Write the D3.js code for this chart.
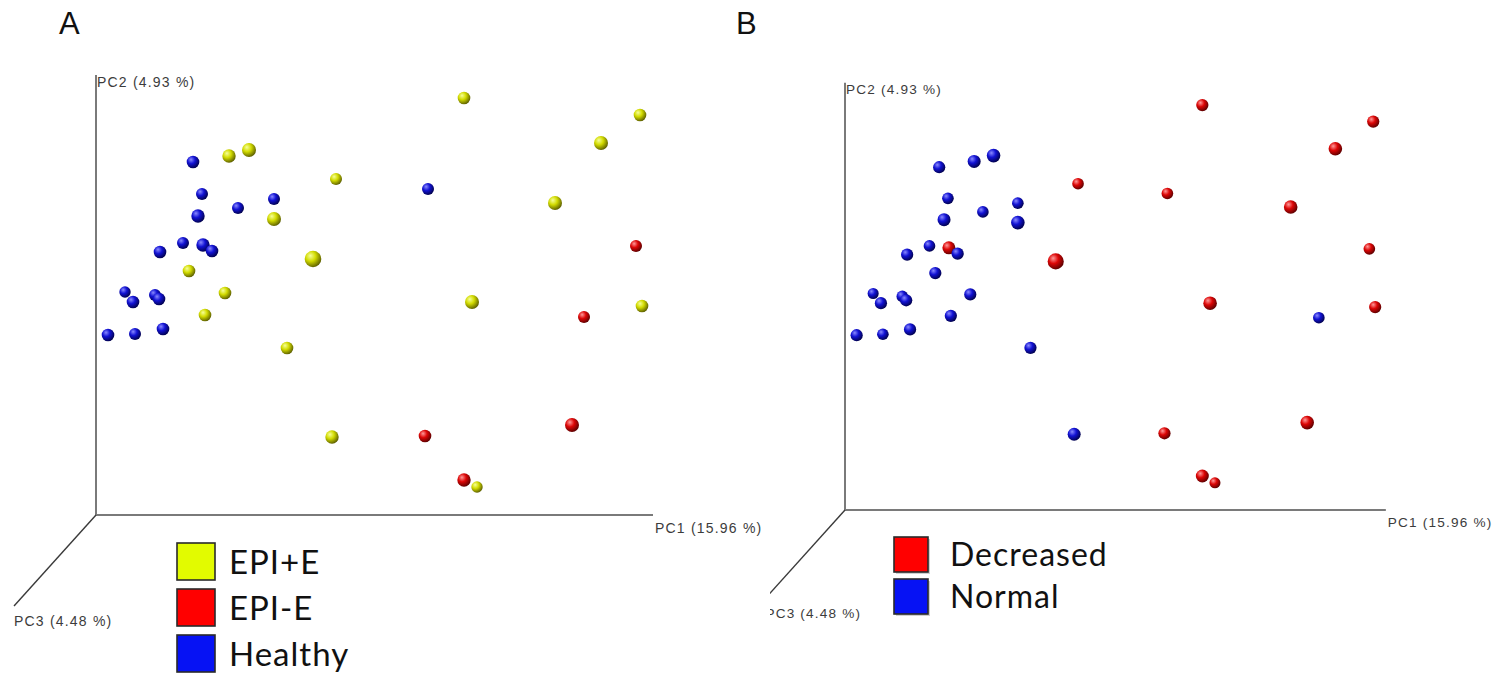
<!DOCTYPE html>
<html>
<head>
<meta charset="utf-8">
<script src="https://cdn.jsdelivr.net/npm/d3@7"></script>
<style>
  body { margin: 0; background: #fff; }
  .axisTitle { font-family: "Liberation Sans", Arial, sans-serif; font-size: 14px; fill: #3c3c3c; letter-spacing: 1.2px; }
  .legendText { font-family: Lato, "Open Sans", sans-serif; font-size: 33px; fill: #111; letter-spacing: 1px; }
  .panelTag { font-family: "Liberation Sans", Arial, sans-serif; font-size: 31px; fill: #111; }
</style>
</head>
<body>
<div id="chart"></div>
<script>
// sample coordinates on the projected PC1 / PC2 plane (plot units from the axis origin)
var pc1 = [540, 488, 329, 476, 368,
           97, 106, 178, 142, 102, 87, 107, 116, 64, 29, 37, 59, 63, 67, 12, 39, 332,
           133, 153, 240, 178, 217, 93, 129, 109, 191, 368, 544, 505, 459, 376, 546, 236, 381];
var pc2 = [269, 198, 79, 90, 35,
           353, 321, 316, 307, 299, 272, 270, 264, 263, 223, 213, 220, 216, 186, 180, 181, 326,
           359, 365, 336, 296, 256, 244, 222, 200, 167, 417, 400, 372, 312, 213, 209, 78, 28];
// apparent sphere size (depth along PC3)
var sphereSize = [6, 6, 6.3, 7, 6.7,
                  6.3, 6, 6, 6, 6.7, 6, 6.7, 6.3, 6.3, 5.7, 6.3, 6, 6.3, 6.3, 6.3, 6, 6,
                  6.7, 7, 6, 7, 8.3, 6.3, 6.3, 6.3, 6.3, 6.3, 6.3, 7, 7, 7, 6.3, 6.7, 5.7];
var clinicalGroup = ['EPI-E', 'EPI-E', 'EPI-E', 'EPI-E', 'EPI-E',
  'Healthy', 'Healthy', 'Healthy', 'Healthy', 'Healthy', 'Healthy', 'Healthy', 'Healthy', 'Healthy',
  'Healthy', 'Healthy', 'Healthy', 'Healthy', 'Healthy', 'Healthy', 'Healthy', 'Healthy',
  'EPI+E', 'EPI+E', 'EPI+E', 'EPI+E', 'EPI+E', 'EPI+E', 'EPI+E', 'EPI+E', 'EPI+E',
  'EPI+E', 'EPI+E', 'EPI+E', 'EPI+E', 'EPI+E', 'EPI+E', 'EPI+E', 'EPI+E'];
var elastaseGroup = ['Decreased', 'Normal', 'Decreased', 'Decreased', 'Decreased',
  'Normal', 'Normal', 'Normal', 'Normal', 'Normal', 'Normal', 'Decreased', 'Normal', 'Normal',
  'Normal', 'Normal', 'Normal', 'Normal', 'Normal', 'Normal', 'Normal', 'Decreased',
  'Normal', 'Normal', 'Decreased', 'Normal', 'Decreased', 'Normal', 'Normal', 'Normal', 'Normal',
  'Decreased', 'Decreased', 'Decreased', 'Decreased', 'Decreased', 'Decreased', 'Normal', 'Decreased'];

var legendA = ['EPI+E', 'EPI-E', 'Healthy'];
var legendB = ['Decreased', 'Normal'];
var axisTitles = ['PC1 (15.96 %)', 'PC2 (4.93 %)', 'PC3 (4.48 %)'];

var width = 1498, height = 674;

var sphere = {
    yellow: ['#f6ff9a', '#d2db00', '#585a00'],
    red: ['#ff9a9a', '#dd0606', '#560000'],
    blue: ['#8a8aff', '#1212d4', '#000046']
};
var swatch = { yellow: '#e2fb00', red: '#ff0000', blue: '#0612f4' };

var colourA = { 'EPI+E': 'yellow', 'EPI-E': 'red', 'Healthy': 'blue' };
var colourB = { 'Decreased': 'red', 'Normal': 'blue' };

var svg = d3.select('#chart').append('svg')
    .attr('width', width)
    .attr('height', height);

svg.append('rect').attr('width', width).attr('height', height).attr('fill', '#fff');

var defs = svg.append('defs');
Object.keys(sphere).forEach(function (c) {
    var grad = defs.append('radialGradient')
        .attr('id', 'ball-' + c)
        .attr('cx', '38%').attr('cy', '36%').attr('r', '68%')
        .attr('fx', '34%').attr('fy', '30%');
    grad.append('stop').attr('offset', '0%').attr('stop-color', sphere[c][0]);
    grad.append('stop').attr('offset', '45%').attr('stop-color', sphere[c][1]);
    grad.append('stop').attr('offset', '100%').attr('stop-color', sphere[c][2]);
});

defs.append('clipPath').attr('id', 'clipB')
    .append('rect').attr('x', 770).attr('y', 0).attr('width', width - 770).attr('height', height);

var points = pc1.map(function (d, i) {
    return { pc1: d, pc2: pc2[i], size: sphereSize[i], a: clinicalGroup[i], b: elastaseGroup[i] };
});

var drawPanel = function (g, ox, oy, k, key, colours) {
    var x = d3.scaleLinear().domain([0, 557]).range([ox, ox + 557 * k]);
    var y = d3.scaleLinear().domain([0, 440]).range([oy, oy - 440 * k]);
    // PC3 runs toward the viewer, drawn as a diagonal
    var zx = d3.scaleLinear().domain([0, 1]).range([ox, ox - 82 * k]);
    var zy = d3.scaleLinear().domain([0, 1]).range([oy, oy + 91 * k]);

    g.append('line')
        .attr('x1', x(0)).attr('y1', y(0)).attr('x2', x(557)).attr('y2', y(0))
        .attr('stroke', '#7a7a7a').attr('stroke-width', 2);
    g.append('line')
        .attr('x1', x(0)).attr('y1', y(0)).attr('x2', x(0)).attr('y2', y(440))
        .attr('stroke', '#7a7a7a').attr('stroke-width', 2);
    g.append('line')
        .attr('x1', zx(0)).attr('y1', zy(0)).attr('x2', zx(1)).attr('y2', zy(1))
        .attr('stroke', '#3a3a3a').attr('stroke-width', 1.4);

    g.append('text').attr('class', 'axisTitle')
        .attr('x', x(559)).attr('y', y(-18))
        .style('font-size', (14 * k) + 'px')
        .text(axisTitles[0]);
    g.append('text').attr('class', 'axisTitle')
        .attr('x', x(1)).attr('y', y(428))
        .style('font-size', (14 * k) + 'px')
        .text(axisTitles[1]);
    g.append('text').attr('class', 'axisTitle')
        .attr('x', zx(1)).attr('y', zy(1) + 20 * k)
        .style('font-size', (14 * k) + 'px')
        .text(axisTitles[2]);

    g.selectAll('circle.ball')
        .data(points)
        .enter()
        .append('circle')
        .attr('class', 'ball')
        .attr('cx', d => x(d.pc1))
        .attr('cy', d => y(d.pc2))
        .attr('r', d => d.size * k)
        .attr('fill', d => 'url(#ball-' + colours[d[key]] + ')');
};

var gA = svg.append('g');
drawPanel(gA, 96, 515, 1, 'a', colourA);

var gB = svg.append('g').attr('clip-path', 'url(#clipB)');
drawPanel(gB, 845, 510, 0.971, 'b', colourB);

svg.append('text').attr('class', 'panelTag').attr('x', 59).attr('y', 34).text('A');
svg.append('text').attr('class', 'panelTag').attr('x', 736).attr('y', 34).text('B');

// legends
var legA = svg.append('g').selectAll('g')
    .data(legendA)
    .enter()
    .append('g')
    .attr('transform', (d, i) => 'translate(177,' + (543 + i * 46) + ')');
legA.append('rect')
    .attr('width', 38).attr('height', 37)
    .attr('fill', d => swatch[colourA[d]])
    .attr('stroke', '#2a2a2a').attr('stroke-width', 1.6);
legA.append('text').attr('class', 'legendText')
    .attr('x', 52).attr('y', 31)
    .text(d => d);

var legB = svg.append('g').selectAll('g')
    .data(legendB)
    .enter()
    .append('g')
    .attr('transform', (d, i) => 'translate(894,' + (537 + i * 42) + ')');
legB.append('rect')
    .attr('x', 2).attr('y', 2)
    .attr('width', 34).attr('height', 35)
    .attr('fill', '#cfcfcf');
legB.append('rect')
    .attr('width', 34).attr('height', 35)
    .attr('fill', d => swatch[colourB[d]])
    .attr('stroke', '#2a2a2a').attr('stroke-width', 1.6);
legB.append('text').attr('class', 'legendText')
    .attr('x', 56).attr('y', 29)
    .style('font-size', '32px')
    .text(d => d);
</script>
</body>
</html>
